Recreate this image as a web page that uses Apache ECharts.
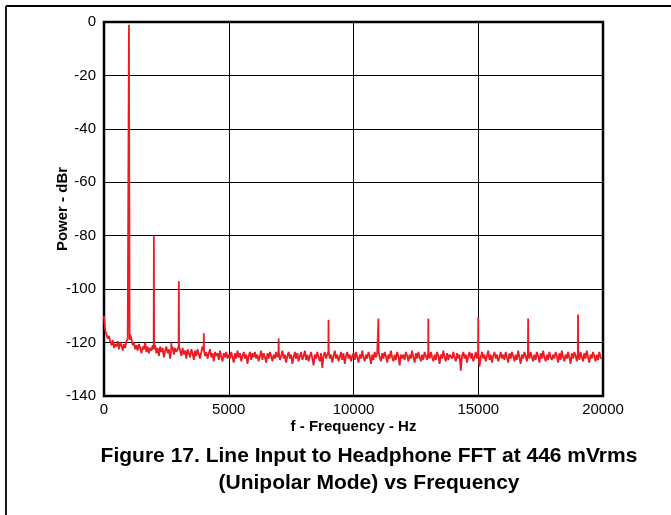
<!DOCTYPE html>
<html>
<head>
<meta charset="utf-8">
<script src="https://cdn.jsdelivr.net/npm/echarts@6/dist/echarts.min.js"></script>
<style>html,body{margin:0;padding:0;background:#fff;}#c{width:671px;height:515px;}</style>
</head>
<body>
<div id="c"></div>
<script>
// Noise floor, one reading every 50 Hz from 0 Hz (dBr)
const noiseStepHz = 50;
const noiseFloor = [
 -110,-115.5,-117,-118.5,-117.5,-119.5,-121,-119,-122,-120.5,-121.5,-119.5,-122.5,-120,-121,-123,-120.5,-122,-119.5,-118.5,
 -119,-117,-118.5,-121,-120,-122.5,-121,-123,-120.5,-122,-124,-121.5,-122.5,-120,-123.5,-121.5,-124,-122,-123,-121,
 -122.5,-121,-124,-122,-125,-121.5,-123.5,-122,-125.5,-123,-121.5,-124,-122.5,-126,-123,-121.5,-124.5,-122,-123.5,-122.5,
 -121.5,-123,-125,-122,-124.5,-123,-126,-122.5,-124,-125.5,-122.5,-124,-126.5,-123,-125,-122.5,-124.5,-126,-123.5,-121.5,
 -123,-125,-123.5,-126,-124,-122.5,-125.5,-124,-127,-123.5,-125,-124,-126.5,-123,-125.5,-127,-124,-125.5,-123.5,-126,
 -124.5,-126,-123.5,-125.5,-127.5,-124,-126,-123,-125.5,-124,-127,-125,-123.5,-126,-124.5,-128,-125,-123.5,-126.5,-124,
 -125.5,-123.5,-126,-124.5,-127,-125,-123,-126.5,-124,-125.5,-127.5,-124,-126,-123.5,-125,-127,-124.5,-126,-123.5,-125.5,
 -124,-126.5,-125,-123,-126,-124.5,-127.5,-125,-123.5,-126,-124.5,-128,-125.5,-123.5,-126,-124,-127,-125,-123.5,-126.5,
 -125,-123,-126.5,-124.5,-127,-125,-123.5,-126,-128.5,-124.5,-126,-123.5,-125.5,-127,-124,-129.5,-125,-123.5,-126,-124.5,
 -123.5,-126,-124.5,-127.5,-125,-123,-126,-124.5,-127,-125.5,-123.5,-126.5,-124,-128,-125,-123.5,-126,-124.5,-127,-125,
 -124,-126.5,-123.5,-125.5,-127.5,-124.5,-126,-123,-125.5,-127,-124.5,-126,-123.5,-125,-128,-124.5,-126.5,-123.5,-125.5,-124,
 -123.5,-125.5,-127,-124,-126,-123.5,-125,-127.5,-124.5,-126,-123,-125.5,-127,-124.5,-126.5,-123.5,-125,-128.5,-124.5,-126,
 -124.5,-126.5,-123.5,-125,-127,-124.5,-126,-123,-125.5,-127.5,-124,-126,-123.5,-125.5,-127,-124.5,-126.5,-123.5,-125,-126.5,
 -124,-126,-123.5,-125.5,-127,-124.5,-126.5,-123.5,-125,-128,-124.5,-126,-123,-125.5,-127,-124,-126.5,-124.5,-125,-126,
 -123.5,-125.5,-127,-124,-126,-124.5,-130.5,-125,-123.5,-126,-124.5,-127.5,-125,-123.5,-126,-124,-127,-125.5,-123.5,-126,
 -124,-129,-125.5,-123.5,-126,-124.5,-127,-125,-123,-126.5,-124.5,-127.5,-125,-123.5,-126,-124.5,-127,-125.5,-123.5,-126,
 -124.5,-126.5,-123.5,-125.5,-127.5,-124,-126,-123.5,-125,-127,-124.5,-126.5,-123,-125.5,-128,-124.5,-126,-123.5,-125,-127,
 -124,-126,-123.5,-125.5,-127,-124.5,-126.5,-123.5,-125,-127.5,-124,-126,-123,-125.5,-127,-124.5,-126.5,-123.5,-125.5,-126.5,
 -124.5,-126,-123.5,-125,-127.5,-124,-126.5,-123,-125.5,-127,-124.5,-126,-123.5,-125.5,-128,-124,-126,-123.5,-125,-127,
 -124,-126.5,-123.5,-125.5,-127,-124,-126,-123,-125.5,-127.5,-124.5,-126,-123.5,-125,-127,-124.5,-126.5,-123.5,-125.5,-126
];
// Fundamental and spurs
const spikeFreqs  = [1000, 2000, 2700, 3000, 4000, 7000, 9000, 11000, 13000, 15000, 17000, 19000];
const spikePeaks  = [-1, -80, -120, -97, -116.5, -118.5, -111.5, -111, -111, -110.5, -111, -109.5];
const spikeHalfW  = [28, 10, 8, 10, 8, 8, 8, 8, 8, 8, 10, 10];
// Axis ticks
const xTicks = [0, 5000, 10000, 15000, 20000];
const yTicks = [0, -20, -40, -60, -80, -100, -120, -140];

const pts = [];
noiseFloor.forEach((v, i) => {
  const f = i * noiseStepHz;
  if (spikeFreqs.indexOf(f) < 0) pts.push([f, v]);
});
spikeFreqs.forEach((f, k) => {
  const nb = noiseFloor[Math.round(f / noiseStepHz)];
  pts.push([f - spikeHalfW[k], nb]);
  pts.push([f, spikePeaks[k]]);
  pts.push([f + spikeHalfW[k], nb]);
});
pts.sort((a, b) => a[0] - b[0]);

const chart = echarts.init(document.getElementById('c'), null, {renderer: 'canvas'});
const font = 'Liberation Sans, Arial, sans-serif';
chart.setOption({
  animation: false,
  backgroundColor: '#fff',
  grid: {left: 104, right: 68, top: 22, bottom: 119, show: true, borderColor: '#000', borderWidth: 2.5, containLabel: false},
  xAxis: {
    type: 'value', min: xTicks[0], max: xTicks[xTicks.length - 1], interval: xTicks[1] - xTicks[0],
    axisLine: {show: false}, axisTick: {show: false},
    axisLabel: {color: '#000', fontFamily: font, fontSize: 15, margin: 6, formatter: v => String(v)},
    splitLine: {show: true, lineStyle: {color: '#000', width: 1}},
    name: 'f - Frequency - Hz', nameLocation: 'middle', nameGap: 23, nameMoveOverlap: false,
    nameTextStyle: {color: '#000', fontFamily: font, fontSize: 15, fontWeight: 'bold'}
  },
  yAxis: {
    type: 'value', min: yTicks[yTicks.length - 1], max: yTicks[0], interval: yTicks[0] - yTicks[1],
    axisLine: {show: false}, axisTick: {show: false},
    axisLabel: {color: '#000', fontFamily: font, fontSize: 15, margin: 8, formatter: v => String(v)},
    splitLine: {show: true, lineStyle: {color: '#000', width: 1}},
    name: 'Power - dBr', nameLocation: 'middle', nameGap: 34, nameMoveOverlap: false,
    nameTextStyle: {color: '#000', fontFamily: font, fontSize: 15, fontWeight: 'bold'}
  },
  series: [{
    type: 'line', data: pts, showSymbol: false, symbol: 'none', sampling: 'none',
    lineStyle: {color: '#ed1c24', width: 1.8}, z: 3
  }],
  graphic: [
    {type: 'line', shape: {x1: 6, y1: 6, x2: 671, y2: 6}, style: {stroke: '#000', lineWidth: 1.8}},
    {type: 'line', shape: {x1: 6, y1: 6, x2: 6, y2: 515}, style: {stroke: '#000', lineWidth: 1.8}},
    {type: 'text', x: 369, y: 456, style: {text: 'Figure 17. Line Input to Headphone FFT at 446 mVrms', fill: '#000', font: 'bold 21px ' + font, textAlign: 'center', textVerticalAlign: 'middle'}},
    {type: 'text', x: 369, y: 483, style: {text: '(Unipolar Mode) vs Frequency', fill: '#000', font: 'bold 21px ' + font, textAlign: 'center', textVerticalAlign: 'middle'}}
  ]
});
</script>
</body>
</html>
